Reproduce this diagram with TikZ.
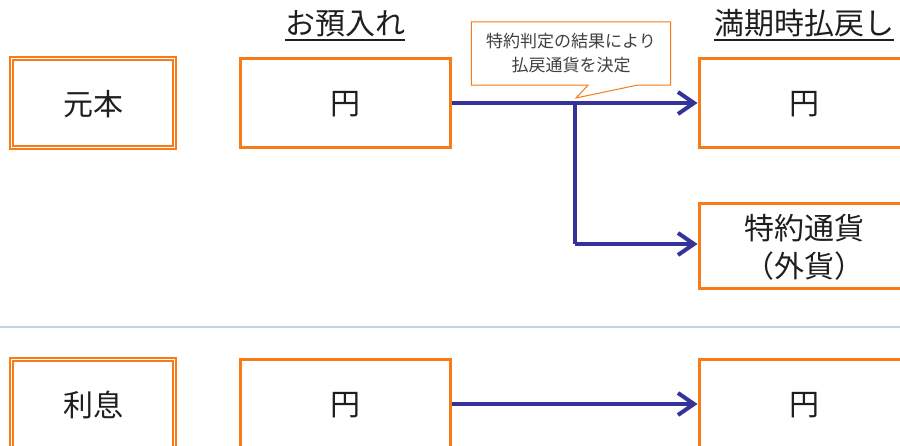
\documentclass[tikz,border=0pt]{standalone}
\usepackage{fontspec}
\setmainfont{Noto Sans CJK JP}
\usetikzlibrary{arrows.meta,calc}
\definecolor{boxorange}{RGB}{247,123,22}
\definecolor{flowblue}{RGB}{51,51,153}
\definecolor{sepline}{RGB}{190,216,222}
\definecolor{txtgray}{RGB}{64,64,64}
\definecolor{txtdark}{RGB}{30,30,30}
\begin{document}
\begin{tikzpicture}[x=1pt,y=-1pt,
  dbox/.style={draw=boxorange, double=white, double distance=1.4pt, line width=1.4pt,
    minimum width=163pt, minimum height=89pt, inner sep=0pt, text=txtdark,
    text depth=-4pt, font=\fontsize{30}{36}\selectfont},
  obox/.style={draw=boxorange, line width=3pt, minimum width=210pt, minimum height=89pt,
    inner sep=0pt, align=center, text=txtdark, text depth=-4pt,
    font=\fontsize{30}{38}\selectfont},
  heading/.style={anchor=base, inner sep=0pt, text=txtdark, font=\fontsize{30}{36}\selectfont},
  flow/.style={draw=flowblue, line width=4pt},
  flowarrow/.style={flow, -{Straight Barb[length=16pt,width=22pt,line width=4pt]}},
  calloutline/.style={draw=boxorange, line width=1pt, fill=white},
  callouttext/.style={align=center, text=txtgray, inner sep=0pt,
    font=\fontsize{17}{24}\selectfont},
  sep/.style={draw=sepline, line width=1.5pt}]
\useasboundingbox (0,0) rectangle (900,446);

% separator
\draw[sep] (0,327) -- (900,327);

% headings
\node[heading] (h1) at (345,35) {お預入れ};
\node[heading] (h2) at (804,35) {満期時払戻し};
\draw[line width=1.5pt, txtdark] ([yshift=-5pt]h1.base west) -- ([yshift=-5pt]h1.base east);
\draw[line width=1.5pt, txtdark] ([yshift=-5pt]h2.base west) -- ([yshift=-5pt]h2.base east);

% left labels
\node[dbox] (gan) at (93,103) {元本};
\node[dbox] (ri) at (93,404) {利息};

% deposit boxes
\node[obox] (d1) at (345,103) {円};
\node[obox] (d2) at (345,404) {円};

% payout boxes
\node[obox] (p1) at (804,103) {円};
\node[obox, minimum height=85pt] (p2) at (804,246) {特約通貨\\（外貨）};
\node[obox] (p3) at (804,404) {円};

% arrows
\coordinate (br) at (575,103);
\coordinate (bend) at (575,244);
\draw[flowarrow] (d1.east) -- (p1.west);
\draw[flow] (br) -- (bend);
\draw[flowarrow] (bend) -- ($(p2.west)+(0,-2)$);
\draw[flowarrow] (d2.east) -- (p3.west);

% callout
\node[minimum width=199pt, minimum height=63pt, inner sep=0pt] (co) at (571,53.5) {};
\coordinate (tip) at (576,98);
\draw[calloutline] (co.north west) -- (co.north east) -- (co.south east)
  -- ($(co.south)+(66,0)$) -- (tip) -- ($(co.south)+(17,0)$) -- (co.south west) -- cycle;
\node[callouttext] (cot) at (co.center) {特約判定の結果により\\払戻通貨を決定};
\end{tikzpicture}
\end{document}
